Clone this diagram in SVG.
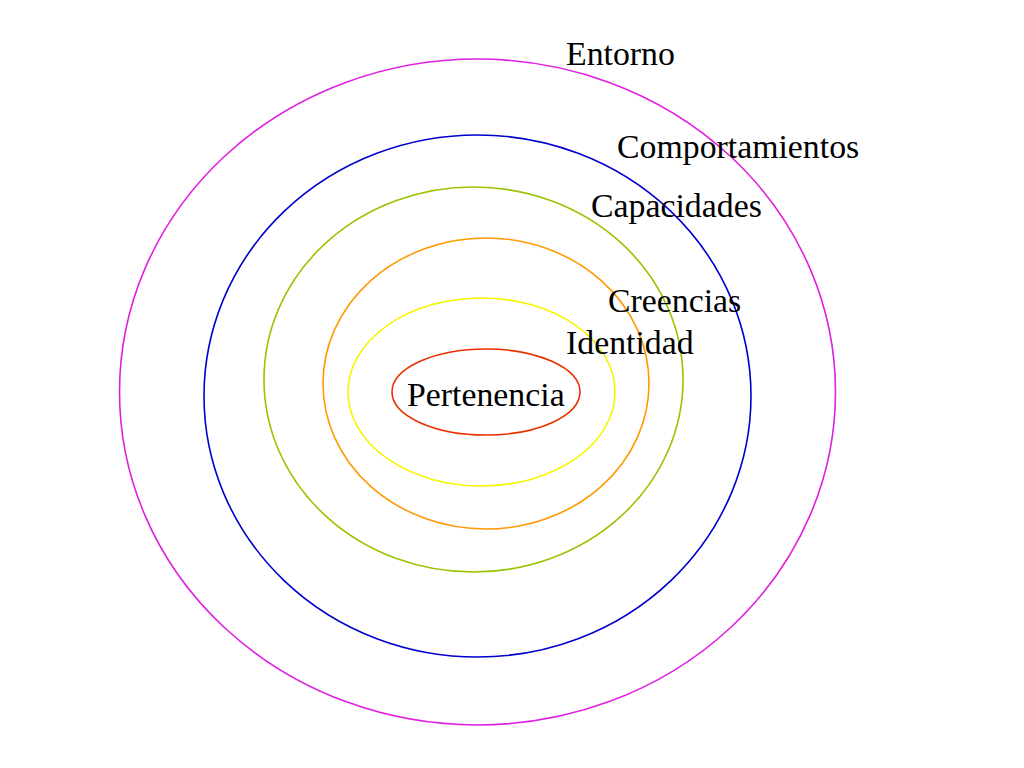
<svg xmlns="http://www.w3.org/2000/svg" width="1024" height="768" viewBox="0 0 1024 768">
<style>
.ring{fill:none;stroke-width:1.6}
.lbl{font-family:"Liberation Serif","Times New Roman",serif;font-size:33.8px;fill:#000}
</style>
<rect width="1024" height="768" fill="#fff"/>
<g id="entorno"><ellipse class="ring" cx="477.5" cy="392" rx="358" ry="333" stroke="#e020e0"/></g>
<g id="comportamientos"><ellipse class="ring" cx="477.5" cy="396" rx="273.5" ry="261" stroke="#0000cc"/></g>
<g id="capacidades"><ellipse class="ring" cx="473.5" cy="379.5" rx="209.5" ry="192.5" stroke="#99c400"/></g>
<g id="creencias"><ellipse class="ring" cx="486" cy="383.5" rx="163" ry="145.5" stroke="#ff9900"/></g>
<g id="identidad"><ellipse class="ring" cx="481.5" cy="392" rx="133.5" ry="94" stroke="#f5f500"/></g>
<g id="pertenencia"><ellipse class="ring" cx="486" cy="392" rx="94" ry="43" stroke="#e83000"/></g>
<g id="labels">
<text class="lbl" x="566" y="65">Entorno</text>
<text class="lbl" x="617" y="158">Comportamientos</text>
<text class="lbl" x="591" y="217">Capacidades</text>
<text class="lbl" x="608" y="312">Creencias</text>
<text class="lbl" x="566" y="354">Identidad</text>
<text class="lbl" x="407" y="406">Pertenencia</text>
</g>
</svg>
